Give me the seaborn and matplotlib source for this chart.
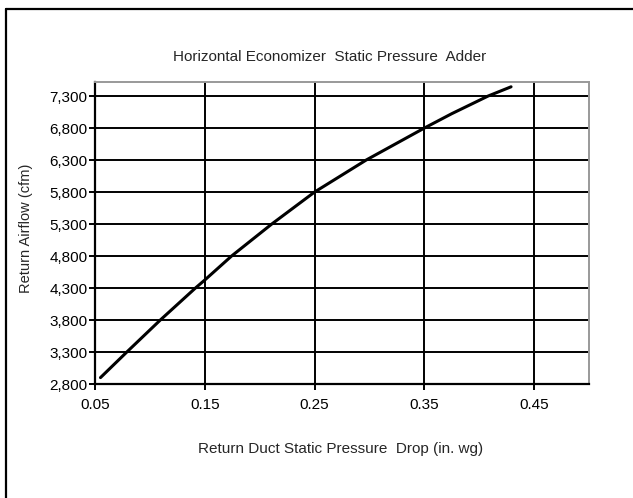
import matplotlib
matplotlib.use("Agg")
import matplotlib.pyplot as plt
import matplotlib.ticker as mticker
from matplotlib.lines import Line2D
import seaborn as sns
import pandas as pd

# 곡선 값
pressure_drop = [0.055, 0.079, 0.1095, 0.1415, 0.150, 0.1744, 0.211, 0.250,
                 0.297, 0.350, 0.375, 0.408, 0.429]
return_airflow = [2900, 3300, 3800, 4300, 4425, 4800, 5300, 5800,
                  6300, 6800, 7025, 7300, 7445]

x_ticks = [0.05, 0.15, 0.25, 0.35, 0.45]
y_ticks = [2800, 3300, 3800, 4300, 4800, 5300, 5800, 6300, 6800, 7300]

df = pd.DataFrame({'drop': pressure_drop, 'airflow': return_airflow})

sns.set_style("white")
plt.rcParams['font.family'] = ['Liberation Sans', 'DejaVu Sans']

fig = plt.figure(figsize=(6.33, 4.98), dpi=100)
ax = fig.add_axes([95 / 633, 1 - 384 / 498, (589 - 95) / 633, (384 - 82) / 498])

sns.lineplot(data=df, x='drop', y='airflow', color='black', linewidth=2.2, ax=ax)

ax.set_xlim(0.05, 0.50)
ax.set_ylim(2800, 7520)
ax.set_xticks(x_ticks)
ax.set_yticks(y_ticks)
ax.xaxis.set_major_formatter(mticker.FuncFormatter(lambda v, p: f'{v:.2f}'))
ax.yaxis.set_major_formatter(mticker.FuncFormatter(lambda v, p: f'{int(v):,}'))
ax.grid(True, color='black', linewidth=1.4)
ax.tick_params(axis='both', which='major', direction='out', length=4, width=1.4,
               colors='black', labelsize=11, left=True, bottom=True)
ax.tick_params(axis='x', pad=6)
ax.tick_params(axis='y', pad=1.5)
ax.set_xlabel('')
ax.set_ylabel('')

for side in ['left', 'bottom']:
    ax.spines[side].set_color('black')
    ax.spines[side].set_linewidth(1.6)
for side in ['top', 'right']:
    ax.spines[side].set_color('#999999')
    ax.spines[side].set_linewidth(1.4)

fig.text(330 / 633, 1 - 57 / 498, 'Horizontal Economizer  Static Pressure  Adder',
         ha='center', va='center', fontsize=11)
fig.text(341 / 633, 1 - 449 / 498, 'Return Duct Static Pressure  Drop (in. wg)',
         ha='center', va='center', fontsize=11)
fig.text(26 / 633, 1 - 228 / 498, 'Return Airflow (cfm)', rotation=90,
         ha='center', va='center', fontsize=10.5)

# 바깥 테두리 (왼쪽, 위쪽만 보임)
fig.add_artist(Line2D([6 / 633, 6 / 633], [0, 1 - 9 / 498], transform=fig.transFigure,
                      color='black', linewidth=1.6))
fig.add_artist(Line2D([6 / 633, 1], [1 - 9 / 498, 1 - 9 / 498], transform=fig.transFigure,
                      color='black', linewidth=1.6))

fig.savefig('out.png', dpi=100)
